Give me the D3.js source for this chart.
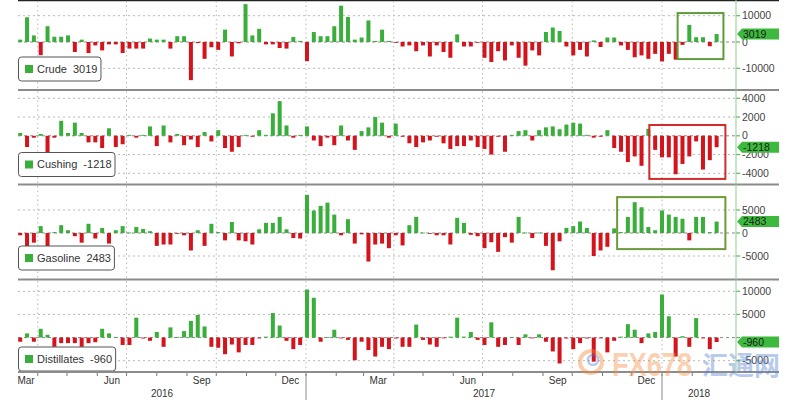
<!DOCTYPE html>
<html><head><meta charset="utf-8">
<script src="https://cdn.jsdelivr.net/npm/d3@7"></script>
<style>
body{margin:0;background:#fff}
svg{display:block;font-family:"Liberation Sans",Arial,sans-serif}
</style>
</head><body>
<svg id="c" width="800" height="400"></svg>
<script>
// ---------------- DATA (weekly changes, thousand barrels) ----------------
const firstWeekEnding = new Date(2016, 2, 11);   // Friday, week ending 11 Mar 2016
const crude = [900,9400,2500,-5000,6000,2000,2000,2500,-3800,900,
  -4200,-1300,-3200,-900,-900,-4200,-2500,-2500,-2500,1300,
  900,900,-2500,2200,2200,-14500,-400,-6400,-2000,-3000,
  4700,-5500,-500,14400,2500,5000,-900,-900,-2300,-2500,
  1900,400,-7300,3800,2200,2200,6000,13800,9500,900,
  1700,8200,400,4700,400,-300,-1700,-1300,-3500,-1300,
  -5500,-1300,-3800,-6000,2900,-1700,-1700,-100,-6000,-7600,
  -3500,-7000,-1300,-6000,-9000,-3200,-5100,3800,5500,4200,
  -1700,-5100,-3000,-5500,600,-1900,1700,1700,-1300,-3000,
  -5800,-5100,-6400,-4500,-7400,-4500,-6700,-1100,6500,1800,
  1800,-1600,3019];
const cushing = [300,-1200,-200,200,-1900,-200,1600,300,1400,300,
  -700,-700,-1300,800,-1200,-900,100,-200,100,1000,
  -1100,1100,-700,200,-1000,-400,-1200,400,-600,600,
  -1300,-1700,-1200,100,-100,600,100,2400,3700,1100,
  -200,100,1000,-500,-1100,-200,-1000,1100,-500,-1500,
  500,900,2000,1400,-200,1300,-100,-800,-1200,-700,
  -500,-100,-800,-1400,-1100,-1100,-500,-1200,-1400,-2000,
  -100,-1700,100,500,600,-500,600,900,1000,700,
  1200,1400,1300,100,-200,-100,600,-1300,-1700,-2800,
  -2200,-3200,750,-1500,-2300,-2300,-4100,-3000,-2200,-600,
  -3600,-2600,-1218];
const gasoline = [-500,-2900,-2100,1500,-3000,200,1700,600,-700,-2100,
  2000,-1200,1100,-2300,600,1500,100,1300,900,400,
  -2800,-2500,-2500,-100,-500,-3800,600,-2800,2000,200,
  -1600,2400,-1600,-1800,-2500,800,2200,2200,3500,800,
  -1100,-1200,8300,4900,5900,6600,4000,-500,3000,-2300,
  -300,-6200,-2500,-2300,-3300,-500,-2700,1700,3500,100,
  -100,-500,-500,-2500,3300,2200,-400,-700,-3300,-2000,
  -4100,-900,-2100,3500,100,-1100,100,-2800,-8100,-1800,
  1100,1500,2500,1100,-5000,-3800,-3000,1000,200,3500,
  6700,5600,1300,600,4900,4000,3500,3100,-1600,3500,
  3500,200,2483];
const distillates = [-900,900,-900,1900,600,-2000,-1200,-1200,-1200,-2000,
  -1200,-1000,1900,900,100,-1600,-1600,4300,-200,-700,
  1200,-2000,2200,100,1400,3600,4900,2400,-2000,-2200,
  -3600,-1500,-3200,-1600,-1600,-100,200,5300,2600,-700,
  -2500,-1600,10400,8600,-900,100,1700,-100,-500,-4900,
  -900,-2700,-4100,-2000,-2500,-200,-2000,-2000,2800,-500,
  -1500,-2000,-100,200,4300,200,1200,-500,-1600,3300,
  -2000,-1600,100,-1600,700,-100,700,-900,-3000,-5600,
  -200,-2500,-1200,-200,-5200,-100,-3200,-700,200,2900,
  1700,-1200,900,1200,9300,4600,-4100,300,-2000,4200,
  -100,-2500,-960];

const seriesNames = ["Crude", "Cushing", "Gasoline", "Distillates"];
const latestValues = [3019, -1218, 2483, -960];
const crudeTicks = [10000, 0, -10000];
const cushingTicks = [4000, 2000, 0, -2000, -4000];
const gasolineTicks = [5000, 0, -5000];
const distillatesTicks = [10000, 5000, 0, -5000];
const monthLabels = ["Mar", "Jun", "Sep", "Dec"];
const yearLabels = ["2016", "2017", "2018"];

// ---------------- LAYOUT ----------------
const L = 18, R = 736;
const GREEN = "#3aae3a", RED = "#d3141c";

const svg = d3.select("#c");
const weeks = d3.range(crude.length).map(i => d3.timeWeek.offset(firstWeekEnding, i));
const x = d3.scaleTime()
  .domain([new Date(2017, 0, 1), new Date(2018, 0, 1)])
  .range([306, 662]);
const barX = d => x(d3.timeDay.offset(d, 3));

const panels = [
  {name: seriesNames[0], data: crude, ticks: crudeTicks, dom: [-10000, 10000], rng: [68.3, 15.7], top: 1, bot: 89, legY: 57,
   hl: {from: new Date(2018, 0, 17), to: new Date(2018, 2, 5), hi: 11000, lo: -6500, color: "#5e9c3a"}},
  {name: seriesNames[1], data: cushing, ticks: cushingTicks, dom: [-4000, 4000], rng: [173.3, 98.3], top: 91.5, bot: 183.5, legY: 152.5,
   hl: {from: new Date(2017, 11, 19), to: new Date(2018, 2, 7), hi: 1150, lo: -4600, color: "#d42a2a"}},
  {name: seriesNames[2], data: gasoline, ticks: gasolineTicks, dom: [-5000, 5000], rng: [256, 210], top: 186, bot: 278.5, legY: 246,
   hl: {from: new Date(2017, 10, 16), to: new Date(2018, 2, 7), hi: 7800, lo: -3500, color: "#6a9c38"}},
  {name: seriesNames[3], data: distillates, ticks: distillatesTicks, dom: [-5000, 10000], rng: [360.7, 291.3], top: 281, bot: 371.5, legY: 347,
   hl: null}
];

const quarterStarts = d3.timeMonth.range(new Date(2016, 3, 1), new Date(2018, 1, 1), 3);

// top border
svg.append("line").attr("x1", L).attr("x2", 779).attr("y1", 0.5).attr("y2", 0.5)
  .attr("stroke", "#222").attr("stroke-width", 1.5);

panels.forEach((p, k) => {
  const y = d3.scaleLinear().domain(p.dom).range(p.rng);
  const g = svg.append("g");

  // vertical dotted gridlines
  g.selectAll(".vg").data(quarterStarts).join("line")
    .attr("x1", d => x(d)).attr("x2", d => x(d))
    .attr("y1", p.top).attr("y2", p.bot)
    .attr("stroke", "#b8b8b8").attr("stroke-dasharray", "1.5,3");

  // horizontal gridlines
  g.selectAll(".hg").data(p.ticks.filter(t => t !== 0)).join("line")
    .attr("x1", L).attr("x2", R).attr("y1", d => y(d)).attr("y2", d => y(d))
    .attr("stroke", "#b8b8b8").attr("stroke-dasharray", "2,3");
  g.append("line").attr("x1", L).attr("x2", R).attr("y1", y(0)).attr("y2", y(0))
    .attr("stroke", "#8a8a8a").attr("stroke-dasharray", "3,3");

  // bars
  g.selectAll(".bar").data(p.data).join("rect")
    .attr("x", (d, i) => barX(weeks[i]) - 2)
    .attr("width", 4)
    .attr("y", d => Math.max(p.top, Math.min(y(0), y(d))))
    .attr("height", d => Math.max(0.8, Math.abs(y(d) - y(0))))
    .attr("fill", d => d >= 0 ? GREEN : RED);

  // highlight box
  if (p.hl) {
    g.append("rect")
      .attr("x", x(p.hl.from)).attr("width", x(p.hl.to) - x(p.hl.from))
      .attr("y", y(p.hl.hi)).attr("height", y(p.hl.lo) - y(p.hl.hi))
      .attr("fill", "none").attr("stroke", p.hl.color).attr("stroke-width", 2);
  }

  // right axis ticks + labels (labels fully covered by the value badge are not visible)
  const v = latestValues[k], yv = y(v);
  g.selectAll(".tk").data(p.ticks).join("line")
    .attr("x1", R).attr("x2", R + 4).attr("y1", d => y(d)).attr("y2", d => y(d))
    .attr("stroke", "#5cb85c").attr("stroke-width", 1.2);
  g.selectAll(".tl").data(p.ticks.filter(t => Math.abs(y(t) - yv) > 5)).join("text")
    .attr("x", R + 6).attr("y", d => y(d)).attr("dy", "0.35em")
    .attr("font-size", 10.5).attr("fill", "#444")
    .text(d => d);

  // value badge
  g.append("path")
    .attr("d", `M${R + 1},${yv} L${R + 6},${yv - 5.5} L${779},${yv - 5.5} L${779},${yv + 5.5} L${R + 6},${yv + 5.5} Z`)
    .attr("fill", "#3dba3d");
  g.append("text").attr("x", R + 7).attr("y", yv).attr("dy", "0.36em")
    .attr("font-size", 10.5).attr("fill", "#1a1a1a").text(v);

  // legend box
  const lg = svg.append("g");
  const box = lg.append("rect").attr("x", L + 0.5).attr("y", p.legY).attr("height", 24).attr("rx", 3)
    .attr("fill", "#fff").attr("stroke", "#555").attr("stroke-width", 1);
  lg.append("rect").attr("x", 25).attr("y", p.legY + 8).attr("width", 8).attr("height", 8).attr("fill", GREEN);
  const t = lg.append("text").attr("x", 37).attr("y", p.legY + 12).attr("dy", "0.36em")
    .attr("font-size", 11).attr("fill", "#333");
  t.append("tspan").text(p.name);
  t.append("tspan").attr("dx", 6).text(v);
  const tw = t.node().getComputedTextLength() + 6;
  box.attr("width", 37 - L + tw + 3);
});

// panel separators / x axis
[90, 184.5, 279.5, 372].forEach(yy => {
  svg.append("line").attr("x1", L).attr("x2", 779).attr("y1", yy).attr("y2", yy)
    .attr("stroke", "#8c8c8c").attr("stroke-width", 2.2);
});

// right axis line
svg.append("line").attr("x1", R).attr("x2", R).attr("y1", 0).attr("y2", 373)
  .attr("stroke", "#8fd08f").attr("stroke-width", 1);

// month ticks
const months = d3.timeMonth.range(new Date(2016, 3, 1), new Date(2018, 2, 1));
svg.selectAll(".mt").data(months).join("line")
  .attr("x1", d => x(d)).attr("x2", d => x(d)).attr("y1", 373).attr("y2", 376)
  .attr("stroke", "#777");

// month labels
const labelMonths = d3.timeMonth.range(new Date(2016, 2, 1), new Date(2018, 0, 1))
  .filter(d => monthLabels.includes(d3.timeFormat("%b")(d)));
svg.selectAll(".ml").data(labelMonths).join("text")
  .attr("x", d => Math.max(26, x(d3.timeDay.offset(d, 15))))
  .attr("y", 384).attr("text-anchor", "middle")
  .attr("font-size", 10).attr("fill", "#333")
  .text(d => d3.timeFormat("%b")(d));

// year labels + separators
const yearStarts = [new Date(2017, 0, 1), new Date(2018, 0, 1)];
svg.selectAll(".ys").data(yearStarts).join("line")
  .attr("x1", d => x(d)).attr("x2", d => x(d)).attr("y1", 374).attr("y2", 400)
  .attr("stroke", "#888");
const yearBounds = [L, x(yearStarts[0]), x(yearStarts[1]), R];
svg.selectAll(".yl").data(yearLabels).join("text")
  .attr("x", (d, i) => (yearBounds[i] + yearBounds[i + 1]) / 2)
  .attr("y", 397).attr("text-anchor", "middle")
  .attr("font-size", 10).attr("fill", "#333")
  .text(d => d);

// watermark
const wm = svg.append("g").attr("opacity", 0.42);
wm.append("circle").attr("cx", 591).attr("cy", 362).attr("r", 11)
  .attr("fill", "none").attr("stroke", "#f08a3c").attr("stroke-width", 4);
wm.append("circle").attr("cx", 593).attr("cy", 360).attr("r", 5)
  .attr("fill", "none").attr("stroke", "#4f7fd0").attr("stroke-width", 2.5);
wm.append("text").attr("x", 612).attr("y", 376).attr("font-size", 34).attr("font-weight", "bold")
  .attr("textLength", 80).attr("lengthAdjust", "spacingAndGlyphs")
  .attr("fill", "#f3934a").text("FX678");
wm.append("text").attr("x", 702).attr("y", 375).attr("font-size", 26)
  .attr("font-family", "'Noto Sans CJK SC'").attr("font-weight", "bold")
  .attr("fill", "#5a86d0").text("汇通网");
</script>
</body></html>
